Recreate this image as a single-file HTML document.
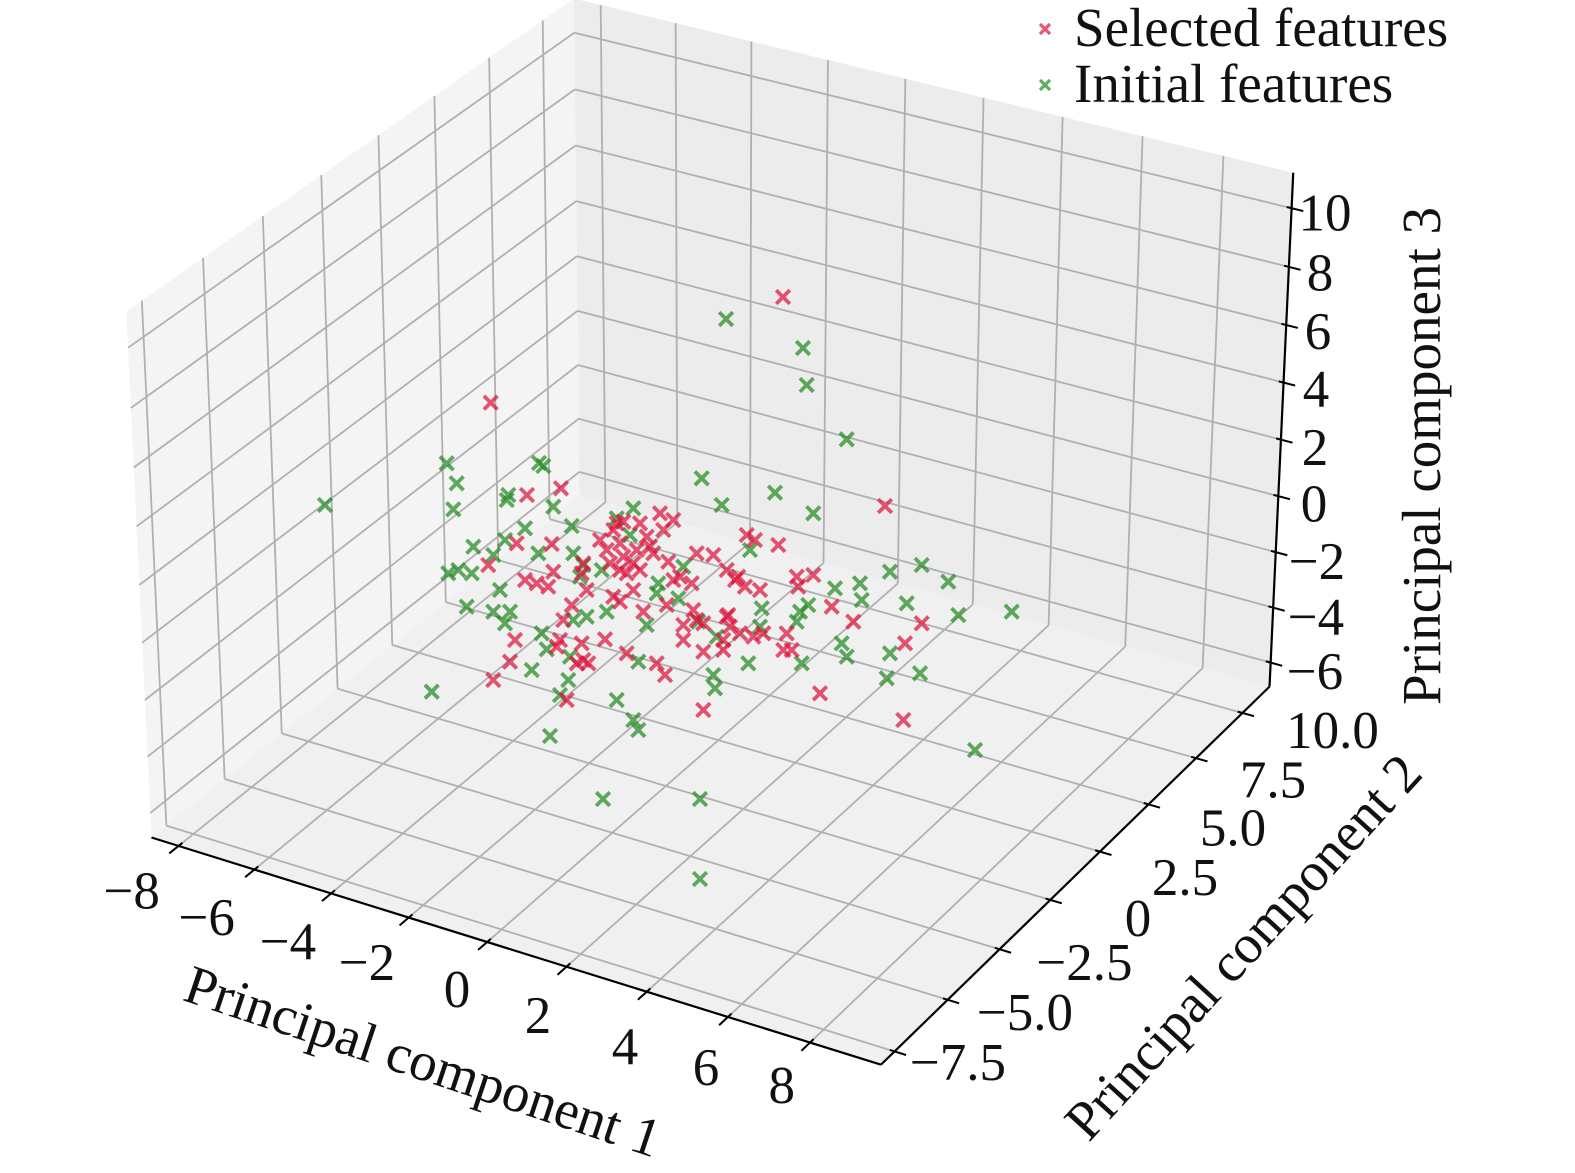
<!DOCTYPE html>
<html><head><meta charset="utf-8"><title>PCA 3D scatter</title>
<style>
html,body{margin:0;padding:0;background:#fff;overflow:hidden;}
svg{display:block;}
text{font-family:"Liberation Serif","Times New Roman",serif;fill:#111;}
</style></head><body>
<svg id="chart" xmlns="http://www.w3.org/2000/svg" width="1575" height="1173" viewBox="0 0 1575 1173">
<rect width="1575" height="1173" fill="#fff"/>
<g id="panes">
<polygon points="150,836.7 580,496 574.5,-4 127.5,311" fill="#f4f4f4"/>
<polygon points="580,496 1269.3,686.7 1293.3,172 574.5,-4" fill="#ececec"/>
<polygon points="150,836.7 881.7,1064.3 1269.3,686.7 580,496" fill="#f0f0f0"/>
</g>
<g id="grid" stroke="#b0b0b0" stroke-width="1.8" fill="none"></g>
<g id="axes" stroke="#000" fill="none"></g>
<g id="pts" fill="none"></g>

<g font-size="53" text-anchor="middle">
<text x="131.7" y="908.7">−8</text>
<text x="206.7" y="935">−6</text>
<text x="288" y="959">−4</text>
<text x="367" y="980">−2</text>
<text x="457" y="1007">0</text>
<text x="538" y="1033">2</text>
<text x="625" y="1064">4</text>
<text x="706" y="1085">6</text>
<text x="781.7" y="1103">8</text>

<text x="1332.5" y="748">10.0</text>
<text x="1273" y="797.5">7.5</text>
<text x="1233" y="845.5">5.0</text>
<text x="1185" y="895">2.5</text>
<text x="1138" y="936">0</text>
<text x="1084.5" y="980">−2.5</text>
<text x="1025" y="1030">−5.0</text>
<text x="958" y="1080">−7.5</text>

<text x="1325" y="230.5">10</text>
<text x="1320" y="290.5">8</text>
<text x="1318" y="349">6</text>
<text x="1316" y="406.5">4</text>
<text x="1315" y="465">2</text>
<text x="1314" y="521.5">0</text>
<text x="1317" y="579">−2</text>
<text x="1316" y="634.5">−4</text>
<text x="1315" y="689">−6</text>
</g>

<g font-size="55" text-anchor="middle">
<text transform="translate(417.4,1078.8) rotate(18.5)">Principal component 1</text>
<text transform="translate(1256.7,959.2) rotate(-47.6)">Principal component 2</text>
<text transform="translate(1440,456) rotate(-90)">Principal component 3</text>
</g>

<g>
<path d="M1040,24 L1050,34 M1040,34 L1050,24" stroke="rgb(220,20,60)" stroke-opacity="0.72" stroke-width="3.2" fill="none"/>
<path d="M1040,80 L1050,90 M1040,90 L1050,80" stroke="rgb(34,139,34)" stroke-opacity="0.72" stroke-width="3.2" fill="none"/>
<text x="1074" y="46" font-size="55">Selected features</text>
<text x="1074" y="102" font-size="55">Initial features</text>
</g>
</svg>
<script>
(function(){
try{
var NS='http://www.w3.org/2000/svg';
var XMIN=-8.72,XMAX=9.71,YMIN=-8.13,YMAX=11.48,ZMIN=-6.88,ZMAX=11.2;
var C=[];
function add(X,Y,Z,u,v,w){C.push([X,Y,Z,u,v,(w===undefined?1:w)]);}
add(XMIN,YMIN,ZMIN,150,836.7,2);
add(XMAX,YMIN,ZMIN,881.7,1064.3,2);
add(XMAX,YMAX,ZMIN,1269.3,686.7,2);
add(XMAX,YMAX,ZMAX,1293.3,172,1);
add(XMIN,YMAX,ZMIN,580,496,1);
add(XMIN,YMIN,ZMAX,127.5,311,0.7);
[[-8,177.3],[-6,253.3],[-4,331.7],[-2,408.3],[0,488.3],[2,566.7],[4,647.7],[6,730],[8,811.7]].forEach(function(a){add(a[0],YMIN,ZMIN,a[1],836.7+(a[1]-150)*0.31105);});
[[-7.5,895],[-5,947.7],[-2.5,1000],[0,1050.7],[2.5,1098.3],[5,1146.7],[7.5,1195],[10,1241.7]].forEach(function(a){add(XMAX,a[0],ZMIN,a[1],1064.3-(a[1]-881.7)*0.9742);});
[[10,206.7],[8,265.3],[6,324],[4,381],[2,439.4],[0,496],[-2,553.4],[-4,609],[-6,663.3]].forEach(function(a){add(XMAX,YMAX,a[0],1269.3+(686.7-a[1])*0.04663,a[1]);});
[[10,30.7],[8,87.7],[6,144],[4,200],[2,255.7],[0,310],[-2,365],[-4,418],[-6,472]].forEach(function(a){add(XMIN,YMAX,a[0],580-(496-a[1])*0.0087,a[1],0.7);});
[[-7.5,141.1],[-5,201.8],[-2.5,261.8],[0,320.4],[2.5,377.2],[5,433.3],[7.5,487.7],[10,540.7]].forEach(function(a){add(XMIN,a[0],ZMAX,a[1],24+(540.7-a[1])*0.695,0.5);});

var N=11,M=[],r=[],i,j,k;
for(i=0;i<N;i++){M.push([]);r.push(0);for(j=0;j<N;j++)M[i].push(0);}
C.forEach(function(c){
  var X=c[0]/10,Y=c[1]/10,Z=c[2]/10,u=(c[3]-700)/500,v=(c[4]-600)/500,w=c[5];
  var rows=[[[X,Y,Z,1,0,0,0,0,-u*X,-u*Y,-u*Z],u],[[0,0,0,0,X,Y,Z,1,-v*X,-v*Y,-v*Z],v]];
  rows.forEach(function(rw){var a=rw[0],b=rw[1];
    for(var ii=0;ii<N;ii++){r[ii]+=w*a[ii]*b;for(var jj=0;jj<N;jj++)M[ii][jj]+=w*a[ii]*a[jj];}
  });
});
for(k=0;k<N;k++){
  var piv=k;for(i=k+1;i<N;i++)if(Math.abs(M[i][k])>Math.abs(M[piv][k]))piv=i;
  var tm=M[k];M[k]=M[piv];M[piv]=tm;var tr=r[k];r[k]=r[piv];r[piv]=tr;
  for(i=k+1;i<N;i++){var f=M[i][k]/M[k][k];for(j=k;j<N;j++)M[i][j]-=f*M[k][j];r[i]-=f*r[k];}
}
var p=[];for(i=0;i<N;i++)p.push(0);
for(i=N-1;i>=0;i--){var s=r[i];for(j=i+1;j<N;j++)s-=M[i][j]*p[j];p[i]=s/M[i][i];}

function P(X,Y,Z){X/=10;Y/=10;Z/=10;var w=p[8]*X+p[9]*Y+p[10]*Z+1;
  return [(p[0]*X+p[1]*Y+p[2]*Z+p[3])/w*500+700,(p[4]*X+p[5]*Y+p[6]*Z+p[7])/w*500+600];}
function el(tag,attrs,parent){var e=document.createElementNS(NS,tag);for(var kk in attrs)e.setAttribute(kk,attrs[kk]);parent.appendChild(e);return e;}
function pts(a){return a.map(function(q){return q[0].toFixed(1)+','+q[1].toFixed(1);}).join(' ');}
function line(a,b,parent,attrs){var o={x1:a[0].toFixed(2),y1:a[1].toFixed(2),x2:b[0].toFixed(2),y2:b[1].toFixed(2)};if(attrs)for(var kk in attrs)o[kk]=attrs[kk];return el('line',o,parent);}

var gp=document.getElementById('panes');gp.innerHTML='';
el('polygon',{points:pts([P(XMIN,YMIN,ZMIN),P(XMIN,YMAX,ZMIN),P(XMIN,YMAX,ZMAX),P(XMIN,YMIN,ZMAX)]),fill:'#f4f4f4'},gp);
el('polygon',{points:pts([P(XMIN,YMAX,ZMIN),P(XMAX,YMAX,ZMIN),P(XMAX,YMAX,ZMAX),P(XMIN,YMAX,ZMAX)]),fill:'#ececec'},gp);
el('polygon',{points:pts([P(XMIN,YMIN,ZMIN),P(XMAX,YMIN,ZMIN),P(XMAX,YMAX,ZMIN),P(XMIN,YMAX,ZMIN)]),fill:'#f0f0f0'},gp);

var gg=document.getElementById('grid');
var XT=[-8,-6,-4,-2,0,2,4,6,8],YT=[-7.5,-5,-2.5,0,2.5,5,7.5,10],ZT=[-6,-4,-2,0,2,4,6,8,10];
XT.forEach(function(t){line(P(t,YMIN,ZMIN),P(t,YMAX,ZMIN),gg);line(P(t,YMAX,ZMIN),P(t,YMAX,ZMAX),gg);});
YT.forEach(function(t){line(P(XMIN,t,ZMIN),P(XMAX,t,ZMIN),gg);line(P(XMIN,t,ZMIN),P(XMIN,t,ZMAX),gg);});
ZT.forEach(function(t){line(P(XMIN,YMIN,t),P(XMIN,YMAX,t),gg);line(P(XMIN,YMAX,t),P(XMAX,YMAX,t),gg);});

var ga=document.getElementById('axes');
line(P(XMIN,YMIN,ZMIN),P(XMAX,YMIN,ZMIN),ga,{'stroke-width':2.2});
line(P(XMAX,YMIN,ZMIN),P(XMAX,YMAX,ZMIN),ga,{'stroke-width':2.2});
line(P(XMAX,YMAX,ZMIN),P(XMAX,YMAX,ZMAX),ga,{'stroke-width':2.2});
function tick(a,b){var dx=a[0]-b[0],dy=a[1]-b[1],L=Math.sqrt(dx*dx+dy*dy);dx/=L;dy/=L;
  line([a[0]-5*dx,a[1]-5*dy],[a[0]+12*dx,a[1]+12*dy],ga,{'stroke-width':2});}
XT.forEach(function(t){tick(P(t,YMIN,ZMIN),P(t,YMIN+1,ZMIN));});
YT.forEach(function(t){tick(P(XMAX,t,ZMIN),P(XMAX-1,t,ZMIN));});
ZT.forEach(function(t){tick(P(XMAX,YMAX,t),P(XMAX-1,YMAX,t));});

var G=[[726,319],[803,348],[806.7,385],[846.7,439.3],[325,505],[701.7,478.3],[775,492.7],[721.7,505],[813.3,513.3],[890,571.7],[603,799],[700,799],[700,879],[975,750],
[446.7,463.3],[456.7,483.3],[453.3,509.3],[543.3,466],[539,463],[508.3,495],[506.7,500],[553.3,506.7],[633.3,508.3],[616.7,518.3],[473.3,546.7],[505,540],[525,528.3],[571.7,526],[493.3,555],[538.3,553.3],[573.3,553.3],[448.3,573.3],[458.3,570],[471.7,573.3],[500,590],[466.7,606.7],[493.3,611.7],[510,611.7],[505,623.3],[541.7,633.3],[546.7,649.3],[586.7,616.7],[573.3,620],[606.7,611.7],[601.7,570],[630,535],[658.3,583.3],[656.7,593.3],[683.3,566.7],[678.3,598.3],[646.7,625],[638.3,661.7],[570,656.7],[531.7,670],[568.3,680],[560,695],[616.7,700],[633.3,720],[638.3,730],[550,736],[431.7,691.7],[713.3,675],[715,688.3],[716.7,636.7],[698.3,621.7],[583.3,565],[580,576.7],
[750,550],[921.7,565],[948.3,581.7],[835,588.3],[860,583.3],[861.7,600],[906.7,603.3],[958.3,615],[1011.7,611.7],[808.3,605],[800,611.7],[796.7,621.7],[761.7,608.3],[841.7,643.3],[846.7,656.7],[890,653.3],[886.7,678.3],[920,673.3],[748.3,663.3],[801.7,663.3],[760,626.7]];
var R=[[783,297],[490.7,402.7],[527,495],[561,488.3],[885,506],
[516.7,543.3],[551.7,544],[488.3,565],[553.3,571.7],[525,580],[536.7,583.3],[548.3,586.7],[583.3,563.3],[581.7,573.3],[586.7,590],[571.7,605],[563.3,620],[560,640],[556.7,646.7],[581.7,643.3],[583.3,660],[576.7,663.3],[588.3,663.3],[515,640],[510,661.7],[493.3,680],[566.7,700],[605,639.3],[626.7,653.3],[656.7,663.3],[665,675],[703.3,710],[703.3,651.7],[683.3,640],[683.3,625],[696.7,620],[703.3,623.3],[726.7,616.7],[730,626.7],[723.3,640],[723.3,650],[693.3,610],[666.7,605],[643.3,611.7],[620,601.7],[613.3,596.7],[633.3,590],[696.7,553.3],[713.3,555],[726.7,570],[735,580],[673.3,580],[680,576.7],[691.7,583.3],[668.3,561.7],[660,513.3],[673.3,520],[663.3,530],[650,546.7],[653.3,553.3],[640,523.3],[646.7,536.7],[616.7,523.3],[623.3,521.7],
[600,540],[606.7,550],[613.3,530],[620,543.3],[623.3,556.7],[633.3,563.3],[626.7,573.3],[640,570],[620,570],[610,563.3],[636.7,550],
[746.7,535],[755,540],[778.3,545],[738.3,576.7],[745,586.7],[760,590],[796.7,576.7],[813.3,575],[798.3,586.7],[831.7,606.7],[853.3,621.7],[921.7,623.3],[905,643.3],[820,693.3],[903.3,720],[728.3,615],[740,633.3],[753.3,636.7],[763.3,633.3],[786.7,633.3],[783.3,650],[791.7,650]];
var gs=document.getElementById('pts');
function mk(q,col){var x=q[0],y=q[1],s=6.8;
  el('path',{d:'M'+(x-s)+','+(y-s)+'L'+(x+s)+','+(y+s)+'M'+(x-s)+','+(y+s)+'L'+(x+s)+','+(y-s),stroke:col,'stroke-opacity':0.72,'stroke-width':3.8},gs);}
G.forEach(function(q){mk(q,'rgb(34,139,34)');});
R.forEach(function(q){mk(q,'rgb(220,20,60)');});
}catch(e){}
})();
</script>
</body></html>
